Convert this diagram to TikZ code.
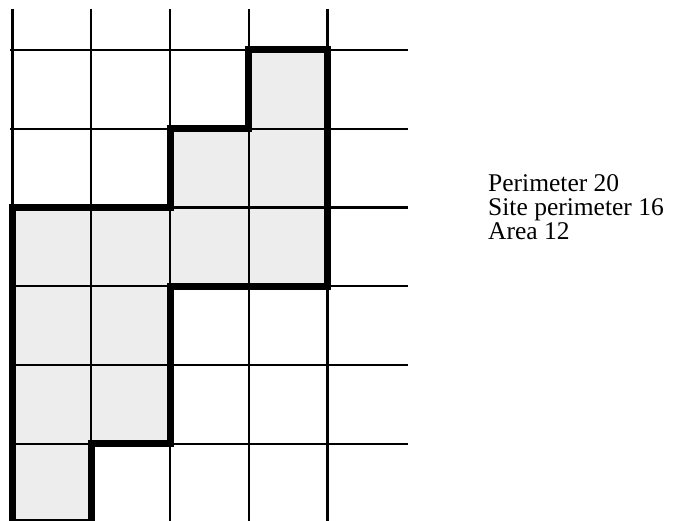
\documentclass[tikz,border=0pt]{standalone}
\usepackage{fontspec}
\setmainfont{Liberation Serif}
\begin{document}
\begin{tikzpicture}[x=1pt,y=-1pt,
  gridline/.style={line width=2.4pt,black},
  label/.style={anchor=base west,inner sep=0pt,font=\fontsize{25.5}{24}\selectfont}]
\useasboundingbox (0,0) rectangle (673,521);
\coordinate (p1) at (12.5+78.75*3, 50);
\coordinate (p2) at (12.5+78.75*4, 50);
\coordinate (p3) at (12.5+78.75*4, 50+78.75*3);
\coordinate (p4) at (12.5+78.75*2, 50+78.75*3);
\coordinate (p5) at (12.5+78.75*2, 50+78.75*5);
\coordinate (p6) at (12.5+78.75*1, 50+78.75*5);
\coordinate (p7) at (12.5+78.75*1, 50+78.75*6);
\coordinate (p8) at (12.5, 50+78.75*6);
\coordinate (p9) at (12.5, 50+78.75*2);
\coordinate (p10) at (12.5+78.75*2, 50+78.75*2);
\coordinate (p11) at (12.5+78.75*2, 50+78.75*1);
\coordinate (p12) at (12.5+78.75*3, 50+78.75*1);
\fill[black!7] (p1) -- (p2) -- (p3) -- (p4) -- (p5) -- (p6) -- (p7) -- (p8) -- (p9) -- (p10) -- (p11) -- (p12) -- cycle;
\foreach \i in {0,...,4} {
  \draw[gridline] (12.5+78.75*\i, 9) -- (12.5+78.75*\i, 521);
}
\foreach \j in {0,...,5} {
  \draw[gridline] (10, 50+78.75*\j) -- (408, 50+78.75*\j);
}
\draw[line width=7pt,line join=miter] (p1) -- (p2) -- (p3) -- (p4) -- (p5) -- (p6) -- (p7) -- (p8) -- (p9) -- (p10) -- (p11) -- (p12) -- cycle;
\node[label] (t1) at (488,192) {Perimeter 20};
\node[label] (t2) at (488,216) {Site perimeter 16};
\node[label] (t3) at (488,240) {Area 12};
\end{tikzpicture}
\end{document}
